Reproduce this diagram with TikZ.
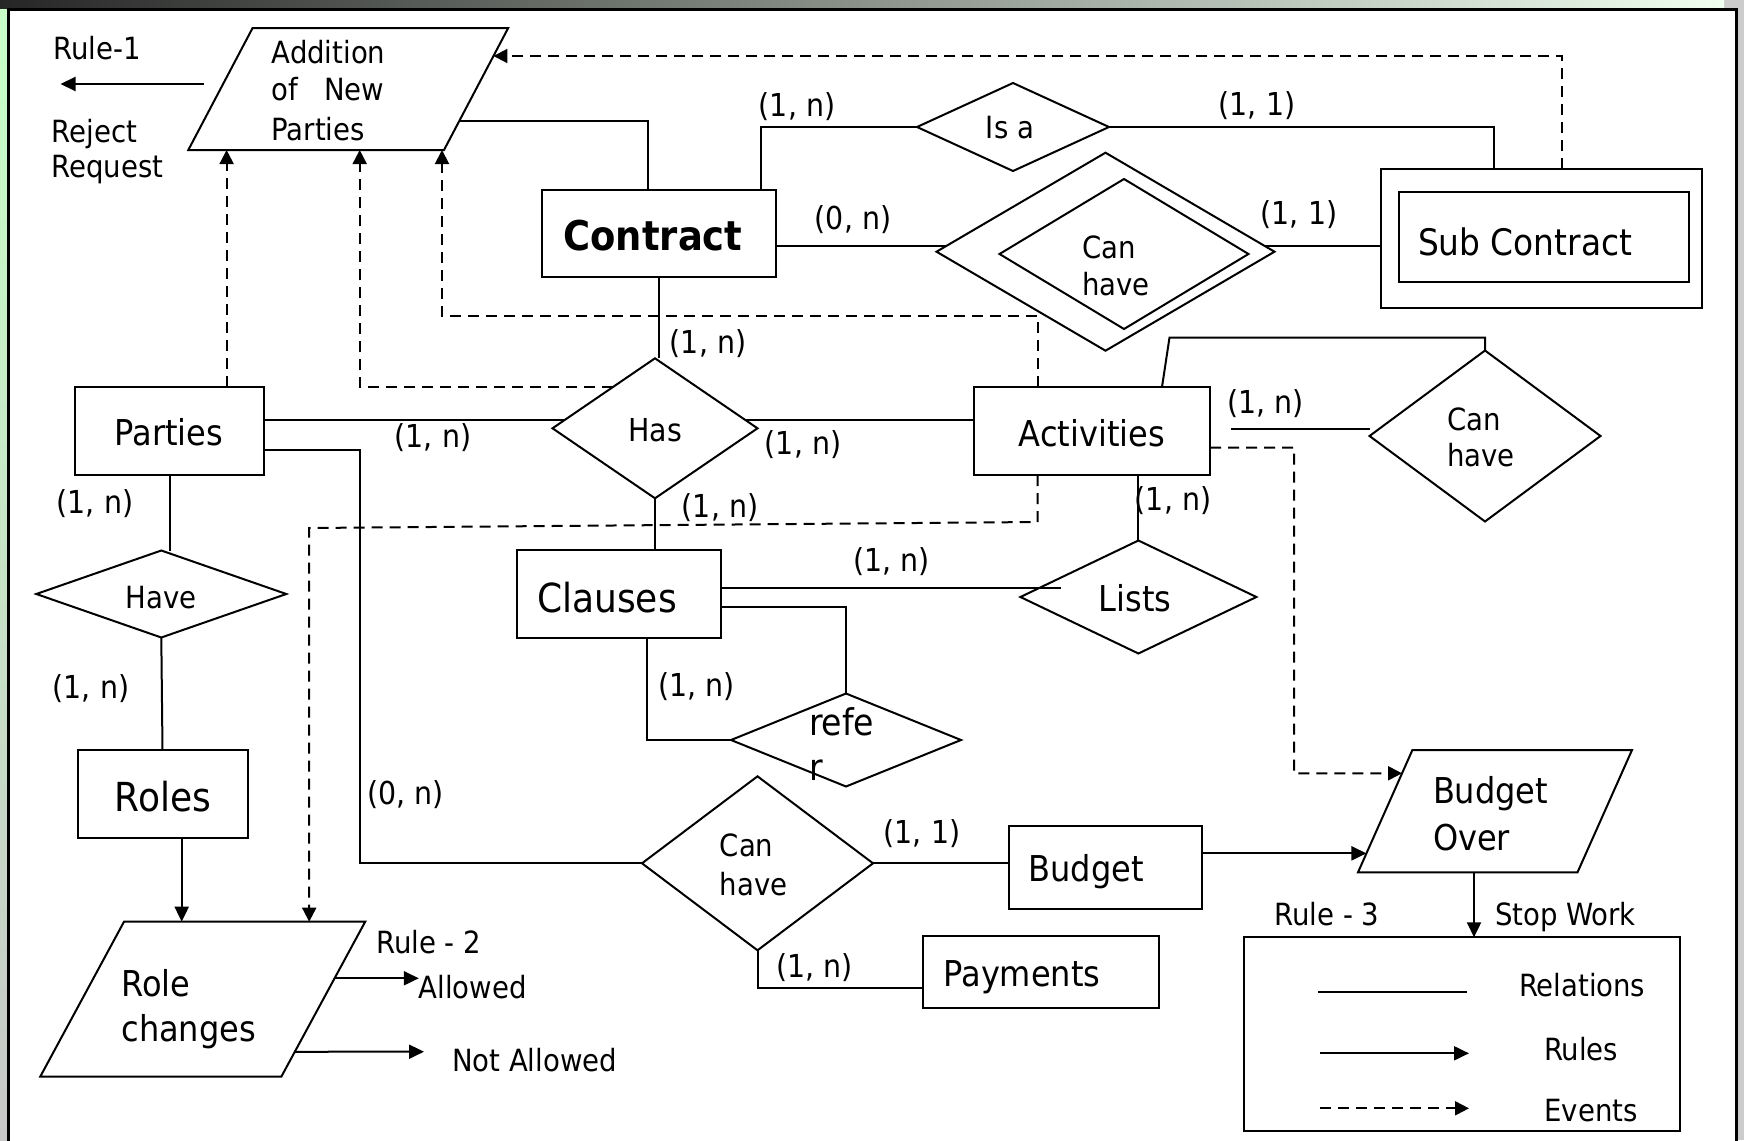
\documentclass[tikz,border=0pt]{standalone}
\usepackage{fontspec}
\setmainfont{DejaVu Sans Condensed}
\usetikzlibrary{shapes.geometric,arrows.meta}
\newcommand\fsS{\fontsize{15.3pt}{18pt}\selectfont}
\newcommand\fsC{\fontsize{15.8pt}{18pt}\selectfont}
\newcommand\fsH{\fontsize{15.8pt}{18pt}\selectfont}
\newcommand\fsM{\fontsize{17.8pt}{21pt}\selectfont}
\newcommand\fsL{\fontsize{20pt}{24pt}\selectfont}
\newcommand\fsB{\fontsize{20.5pt}{24pt}\selectfont\bfseries}
\tikzset{
  every node/.style={inner sep=0pt,outer sep=0pt},
  entbox/.style 2 args={draw,line width=1pt,rectangle,minimum width=#1,minimum height=#2},
  relbox/.style 2 args={draw,line width=1pt,diamond,minimum width=#1,minimum height=#2},
  shapeline/.style={line width=1pt,line join=miter},
  rel/.style={line width=1pt},
  rule/.style={line width=1pt,-{Triangle[length=7.5pt,width=7pt]}},
  event/.style={line width=1pt,dash pattern=on 5.5pt off 3.5pt,-{Triangle[length=7pt,width=7pt]}},
  lbl/.style={font=\fsS,anchor=base west},
  card/.style={font=\fsC},
}
\begin{document}
\begin{tikzpicture}[x=0.5pt,y=-0.5pt]
\useasboundingbox (0,0) rectangle (1744,1140);
\clip (0,0) rectangle (1744,1140);
% slide frame
\fill[black!20] (0,0) rectangle (1744,1140);
\shade[left color=black!85, right color=green!6!white] (0,0) rectangle (1724,9);
\shade[top color=green!22!white, bottom color=black!22] (0,9) rectangle (8,1140);
\fill[white] (8,9) rectangle (1736,1160);
\draw[line width=1.5pt] (8,9) rectangle (1736,1160);

% ---------- parallelograms (events / rules) ----------
\coordinate (addTL) at (252.6,28);  \coordinate (addTR) at (508.2,28);
\coordinate (addBR) at (444,150);   \coordinate (addBL) at (188.3,150);
\draw[shapeline] (addTL) -- (addTR) -- (addBR) -- (addBL) -- cycle;
\coordinate (boTL) at (1412.4,750); \coordinate (boTR) at (1632,750);
\coordinate (boBR) at (1577.5,872.3); \coordinate (boBL) at (1358,872.3);
\draw[shapeline] (boTL) -- (boTR) -- (boBR) -- (boBL) -- cycle;
\coordinate (rcTL) at (124,921.7);  \coordinate (rcTR) at (365.2,921.7);
\coordinate (rcBR) at (281.3,1076.7); \coordinate (rcBL) at (40.2,1076.7);
\draw[shapeline] (rcTL) -- (rcTR) -- (rcBR) -- (rcBL) -- cycle;
\path (addTR) -- (addBR) coordinate[pos=0.762] (addR) coordinate[pos=0.2295] (addE);
\path (boBL) -- (boTL) coordinate[pos=0.155] (boIn1) coordinate[pos=0.8095] (boIn2);
\path (boBL) -- (boBR) coordinate[pos=0.5285] (boB);
\path (rcTR) -- (rcBR) coordinate[pos=0.365] (rcA) coordinate[pos=0.839] (rcB);

% ---------- entities ----------
\node[entbox={117pt}{43.5pt}] (contract) at (659,233.5) {};
\node[entbox={160.5pt}{69.5pt}] (subouter) at (1541.5,238.8) {};
\node[entbox={145.35pt}{44.7pt}] (subinner) at (1544,237) {};
\node[entbox={94.3pt}{44pt}] (parties) at (169.7,431) {};
\node[entbox={118pt}{44pt}] (activities) at (1092,431) {};
\node[entbox={102pt}{44pt}] (clauses) at (618.5,594.4) {};
\node[entbox={85pt}{44pt}] (roles) at (162.5,793.6) {};
\node[entbox={96.8pt}{41.8pt}] (budget) at (1105.5,867.5) {};
\node[entbox={117.6pt}{35.8pt}] (payments) at (1041,971.8) {};
\node[entbox={217.75pt}{96.7pt}] (legend) at (1461.75,1034) {};

% ---------- relationships ----------
\node[relbox={96pt}{44pt}] (isa) at (1013,127) {};
\node[relbox={169pt}{99pt}] (ch1o) at (1105.5,251.7) {};
\node[relbox={124.5pt}{75pt}] (ch1i) at (1124,254) {};
\node[relbox={102.5pt}{70pt}] (has) at (655,428.3) {};
\node[relbox={115.5pt}{85.5pt}] (ch2) at (1485,436) {};
\node[relbox={118pt}{56.5pt}] (lists) at (1138.4,597) {};
\node[relbox={125pt}{43.5pt}] (have) at (161.3,594) {};
\node[relbox={115pt}{46.5pt}] (refer) at (846,740) {};
\node[relbox={115.5pt}{87pt}] (ch3) at (757.5,863.3) {};

% ---------- texts ----------
\node[lbl] (tRule1) at (53.6,59.3) {Rule-1};
\node[lbl] (tReject) at (51.7,142.7) {Reject};
\node[lbl] (tRequest) at (51.7,177) {Request};
\node[lbl] (tAdd1) at (271.7,63.3) {Addition};
\node[lbl] (tAdd2) at (271.7,100) {of\ \ \ New};
\node[lbl] (tAdd3) at (271.7,140) {Parties};
\node[font=\fsS,anchor=base] (tIsa) at (1010,138.3) {Is a};
\node[lbl] (tCh1a) at (1082,258.3) {Can};
\node[lbl] (tCh1b) at (1082,295) {have};
\node[font=\fsB,anchor=base] (tContract) at (653,250) {Contract};
\node[font=\fontsize{18.25pt}{21pt}\selectfont,anchor=base west] (tSub) at (1418,255) {Sub Contract};
\node[font=\fsM,anchor=base] (tParties) at (169,445) {Parties};
\node[font=\fsH,anchor=base] (tHas) at (655,441.7) {Has};
\node[font=\fsM,anchor=base] (tAct) at (1092,446.7) {Activities};
\node[lbl] (tCh2a) at (1447,430) {Can};
\node[lbl] (tCh2b) at (1447,466.7) {have};
\node[font=\fsL,anchor=base] (tClauses) at (607,612) {Clauses};
\node[font=\fsM,anchor=base] (tLists) at (1135,611.7) {Lists};
\node[font=\fsS,anchor=base] (tHave) at (161,608.3) {Have};
\node[font=\fontsize{18.4pt}{21pt}\selectfont,anchor=base west] (tRefer1) at (809,735) {refe};
\node[font=\fontsize{18.4pt}{21pt}\selectfont,anchor=base west] (tRefer2) at (809,780) {r};
\node[font=\fsL,anchor=base] (tRoles) at (163,811.7) {Roles};
\node[font=\fsM,anchor=base west] (tRole1) at (121.4,996.7) {Role};
\node[font=\fsM,anchor=base west] (tRole2) at (121.4,1041) {changes};
\node[lbl] (tRule2) at (376.3,953.3) {Rule - 2};
\node[lbl] (allowed) at (418.8,998.3) {Allowed};
\node[lbl] (notallowed) at (452.2,1071.7) {Not Allowed};
\node[lbl] (tCh3a) at (719.8,856.7) {Can};
\node[lbl] (tCh3b) at (719.8,895) {have};
\node[font=\fsM,anchor=base west] (tBudget) at (1028.6,881.7) {Budget};
\node[font=\fsM,anchor=base west] (tPay) at (943.7,986.7) {Payments};
\node[font=\fsM,anchor=base west] (tBo1) at (1433,803.3) {Budget};
\node[font=\fsM,anchor=base west] (tBo2) at (1433,850) {Over};
\node[lbl] (tRule3) at (1274.6,925) {Rule - 3};
\node[lbl] (tStop) at (1495,925) {Stop Work};
\node[lbl] (tRel) at (1519,996.7) {Relations};
\node[lbl] (tRules) at (1544,1060) {Rules};
\node[lbl] (tEvents) at (1544.5,1121.7) {Events};

% cardinalities
\node[card] (c1) at (797,107) {(1, n)};
\node[card] (c2) at (1257,106) {(1, 1)};
\node[card] (c3) at (853,220) {(0, n)};
\node[card] (c4) at (1299,215) {(1, 1)};
\node[card] (c5) at (708,344) {(1, n)};
\node[card] (c6) at (433,438) {(1, n)};
\node[card] (c7) at (803,445) {(1, n)};
\node[card] (c8) at (720,508) {(1, n)};
\node[card] (c9) at (1265.5,404) {(1, n)};
\node[card] (c10) at (1173,501) {(1, n)};
\node[card] (c11) at (891.5,561.7) {(1, n)};
\node[card] (c12) at (95,504) {(1, n)};
\node[card] (c13) at (91,689) {(1, n)};
\node[card] (c14) at (696.5,687) {(1, n)};
\node[card] (c15) at (405.5,795) {(0, n)};
\node[card] (c16) at (922,834) {(1, 1)};
\node[card] (c17) at (814.7,968) {(1, n)};

% ---------- helper coordinates ----------
\coordinate (k8) at (359.7,863.3);
\coordinate (k11) at (1169.5,337.5);
\coordinate (k12) at (1231,429);
\coordinate (k14) at (1061,587.7);
\coordinate (r1s) at (204,84);
\coordinate (r1e) at (60.5,84);
\coordinate (naTip) at (424,1051.7);
\coordinate (e29) at (359.7,150);
\coordinate (e30c) at (442,316);
\coordinate (e30t) at (442,150);
\coordinate (e31a) at (1037.5,522);
\coordinate (e31b) at (309.2,528);
\coordinate (e32c) at (1294,773.3);
\coordinate (lg1a) at (1318,992.3);  \coordinate (lg1b) at (1467,992.3);
\coordinate (lg2a) at (1320,1053.3); \coordinate (lg2b) at (1469,1053.3);
\coordinate (lg3a) at (1320,1108.3); \coordinate (lg3b) at (1469,1108.3);

% ---------- relations ----------
\draw[rel] (addR) -| ([xshift=-5.7pt]contract.north);
\draw[rel] ([xshift=50.75pt]contract.north) |- (isa.west);
\draw[rel] (isa.east) -| ([xshift=-23.75pt]subouter.north);
\draw[rel] (contract.east |- ch1o.178) -- (ch1o.178);
\draw[rel] (ch1o.2) -- (ch1o.2 -| subouter.west);
\draw[rel] (contract.south) -- (contract.south |- has.north);
\draw[rel] (parties.east |- has.175) -- (has.175);
\draw[rel] (has.5) -- (has.5 -| activities.west);
\draw[rel] (has.south) -- (has.south |- clauses.north);
\draw[rel] ([yshift=-9.5pt]parties.east) -| (k8) -- (ch3.west);
\draw[rel] ([xshift=35pt]activities.north) -- (k11) -| (ch2.north);
\draw[rel] (k12) -- (k12 -| ch2.west);
\draw[rel] (activities.south -| lists.north) -- (lists.north);
\draw[rel] (k14 -| clauses.east) -- (k14);
\draw[rel] ([yshift=-6.15pt]clauses.east) -| (refer.north);
\draw[rel] ([xshift=14.4pt]clauses.south) |- (refer.west);
\draw[rel] (parties.south) -- (parties.south |- have.north);
\draw[rel] (have.south) -- (roles.north);
\draw[rel] (ch3.east) -- (ch3.east -| budget.west);
\draw[rel] (ch3.south) |- ([yshift=-8.25pt]payments.west);

% ---------- rules ----------
\draw[rule] (r1s) -- (r1e);
\draw[rule] ([xshift=9.6pt]roles.south) -- ([xshift=9.6pt]roles.south |- rcTL);
\draw[rule] (rcA) -- (rcA -| allowed.west);
\draw[rule] (rcB) -- (naTip);
\draw[rule] (boIn1 -| budget.east) -- (boIn1);
\draw[rule] (boB) -- (boB |- legend.north);

% ---------- events ----------
\draw[event] ([xshift=10.25pt]subouter.north) |- (addE);
\draw[event] ([xshift=28.45pt]parties.north) -- ([xshift=28.45pt]parties.north |- addBL);
\draw[event] (has.135) -| (e29);
\draw[event] ([xshift=-27.25pt]activities.north) |- (e30c) -- (e30t);
\draw[event] ([xshift=-27.25pt]activities.south) -- (e31a) -- (e31b) -- (e31b |- rcTL);
\draw[event] ([yshift=-8.35pt]activities.east) -| (e32c) -- (boIn2);

% ---------- legend ----------
\draw[rel] (lg1a) -- (lg1b);
\draw[rule] (lg2a) -- (lg2b);
\draw[event] (lg3a) -- (lg3b);
\end{tikzpicture}
\end{document}
